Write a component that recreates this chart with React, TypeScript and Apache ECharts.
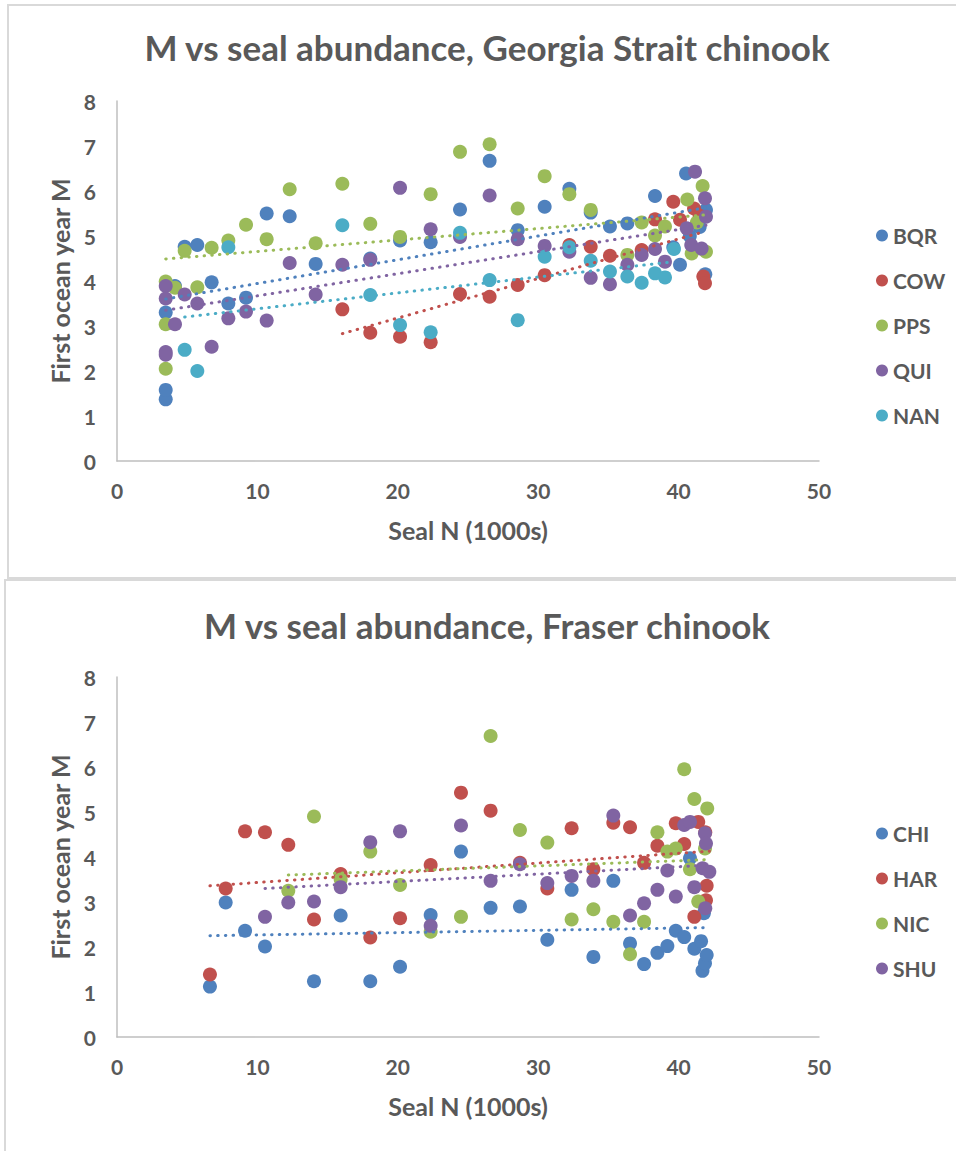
import React, { useEffect, useRef } from "react";
import * as echarts from "echarts";

// ---------- text ----------
const TOP_TITLE = "M vs seal abundance, Georgia Strait chinook";
const BOTTOM_TITLE = "M vs seal abundance, Fraser chinook";
const X_NAME = "Seal N (1000s)";
const Y_NAME = "First ocean year M";

// ---------- axes ----------
const X_MIN = 0;
const X_MAX = 50;
const X_STEP = 10;
const Y_MIN = 0;
const Y_MAX = 8;
const Y_STEP = 1;

// ---------- Georgia Strait series: [seal N (1000s), M] ----------
const TOP_NAMES = ["BQR", "COW", "PPS", "QUI", "NAN"];

const BQR = [
  [3.47, 1.37], [3.47, 1.58], [3.47, 3.3], [4.13, 3.89], [4.82, 4.76], [5.72, 4.8],
  [6.74, 3.97], [7.93, 3.5], [9.19, 3.63], [10.66, 5.5], [12.3, 5.44], [14.15, 4.38],
  [18.04, 4.5], [20.16, 4.9], [22.34, 4.86], [24.43, 5.59], [26.54, 6.67], [28.54, 5.13],
  [30.46, 5.65], [32.22, 6.05], [33.74, 5.52], [35.11, 5.21], [36.35, 5.28], [38.32, 5.89],
  [39.62, 4.75], [40.1, 4.36], [40.53, 6.39], [40.8, 5.0], [41.5, 5.2], [41.95, 5.58], [41.9, 4.15]
];
const COW = [
  [16.05, 3.37], [18.04, 2.85], [20.16, 2.76], [22.34, 2.64], [24.43, 3.71], [26.54, 3.65],
  [28.54, 3.91], [30.46, 4.13], [32.22, 4.8], [33.74, 4.76], [35.11, 4.56], [37.37, 4.69],
  [38.32, 5.37], [39.62, 5.76], [40.1, 5.36], [41.1, 5.61], [41.5, 5.45], [41.76, 4.1], [41.88, 3.95]
];
const PPS = [
  [3.47, 3.99], [3.47, 3.04], [3.47, 2.05], [4.13, 3.85], [4.82, 4.67], [5.72, 3.86],
  [6.74, 4.74], [7.93, 4.9], [9.19, 5.25], [10.66, 4.93], [12.3, 6.04], [14.15, 4.84],
  [16.05, 6.16], [18.04, 5.27], [20.16, 4.98], [22.34, 5.93], [24.43, 6.87], [26.54, 7.04],
  [28.54, 5.61], [30.46, 6.33], [32.22, 5.93], [33.74, 5.58], [36.35, 4.58], [37.37, 5.3],
  [38.32, 5.01], [39.03, 5.21], [40.62, 5.81], [40.93, 4.61], [41.3, 5.3], [41.71, 6.11], [41.95, 4.65]
];
const QUI = [
  [3.47, 3.89], [3.47, 3.61], [3.47, 2.42], [3.47, 2.36], [4.13, 3.04], [4.82, 3.7],
  [5.72, 3.5], [6.74, 2.54], [7.93, 3.17], [9.19, 3.32], [10.66, 3.12], [12.3, 4.4],
  [14.15, 3.7], [16.05, 4.36], [18.04, 4.47], [20.16, 6.07], [22.34, 5.15], [24.43, 4.98],
  [26.54, 5.9], [28.54, 4.93], [30.46, 4.78], [32.22, 4.65], [33.74, 4.07], [35.11, 3.93],
  [36.35, 4.36], [37.37, 4.58], [38.32, 4.71], [39.03, 4.43], [40.58, 5.17], [40.9, 4.8],
  [41.17, 6.43], [41.64, 4.72], [41.88, 5.84], [41.95, 5.43]
];
const NAN = [
  [4.82, 2.47], [5.72, 2.0], [7.93, 4.75], [16.05, 5.24], [18.04, 3.69], [20.16, 3.02],
  [22.34, 2.86], [24.43, 5.07], [26.54, 4.02], [28.54, 3.13], [30.46, 4.54], [32.22, 4.75],
  [33.74, 4.45], [35.11, 4.21], [36.35, 4.1], [37.37, 3.96], [38.32, 4.17], [39.03, 4.08],
  [39.67, 4.71]
];

// linear trend lines (end points)
const BQR_TREND = [[3.47, 3.6], [41.95, 5.63]];
const COW_TREND = [[16.05, 2.83], [41.88, 5.1]];
const PPS_TREND = [[3.47, 4.49], [41.95, 5.47]];
const QUI_TREND = [[3.47, 3.35], [41.95, 5.24]];
const NAN_TREND = [[4.82, 3.2], [39.67, 4.43]];

// ---------- Fraser series ----------
const BOTTOM_NAMES = ["CHI", "HAR", "NIC", "SHU"];

const CHI = [
  [6.62, 1.12], [7.74, 2.99], [9.12, 2.36], [10.54, 2.01], [14.03, 1.24], [15.93, 2.7],
  [18.04, 1.24], [20.16, 1.56], [22.34, 2.71], [24.5, 4.12], [26.61, 2.87], [28.7, 2.9],
  [30.65, 2.16], [32.38, 3.27], [33.93, 1.78], [35.35, 3.47], [36.54, 2.08], [37.54, 1.62],
  [38.49, 1.87], [39.2, 2.02], [39.8, 2.36], [40.4, 2.22], [40.81, 3.97], [41.12, 1.96],
  [41.6, 2.13], [41.7, 1.47], [41.88, 1.64], [42.0, 1.82], [41.8, 2.75]
];
const HAR = [
  [6.62, 1.39], [7.74, 3.3], [9.12, 4.57], [10.54, 4.55], [12.2, 4.27], [14.03, 2.61],
  [15.93, 3.62], [18.04, 2.21], [20.16, 2.64], [22.34, 3.82], [24.5, 5.43], [26.61, 5.03],
  [28.7, 3.87], [30.65, 3.3], [32.38, 4.64], [33.93, 3.73], [35.35, 4.76], [36.54, 4.66],
  [37.54, 3.87], [38.49, 4.25], [39.8, 4.75], [40.4, 4.29], [41.12, 2.67], [41.4, 4.78],
  [41.9, 4.55], [41.95, 3.04], [42.0, 3.36]
];
const NIC = [
  [12.2, 3.25], [14.03, 4.9], [15.93, 3.5], [18.04, 4.12], [20.16, 3.38], [22.34, 2.34],
  [24.5, 2.67], [26.61, 6.69], [28.7, 4.6], [30.65, 4.32], [32.38, 2.61], [33.93, 2.84],
  [35.35, 2.56], [36.54, 1.84], [37.54, 2.56], [38.49, 4.55], [39.2, 4.12], [39.8, 4.19],
  [40.4, 5.95], [40.81, 3.73], [41.12, 5.29], [41.4, 3.01], [41.88, 4.19], [42.04, 5.08]
];
const SHU = [
  [10.54, 2.67], [12.2, 2.99], [14.03, 3.01], [15.93, 3.33], [18.04, 4.33], [20.16, 4.57],
  [22.34, 2.47], [24.5, 4.7], [26.61, 3.47], [28.7, 3.84], [30.65, 3.42], [32.38, 3.58],
  [33.93, 3.47], [35.35, 4.92], [36.54, 2.7], [37.54, 2.97], [38.49, 3.27], [39.2, 3.7],
  [39.8, 3.12], [40.4, 4.71], [40.81, 4.78], [41.12, 3.33], [41.71, 3.75], [41.88, 4.53],
  [41.9, 2.86], [41.95, 4.3], [42.19, 3.67]
];

const CHI_TREND = [[6.62, 2.25], [41.95, 2.43]];
const HAR_TREND = [[6.62, 3.36], [42.19, 4.13]];
const NIC_TREND = [[12.2, 3.6], [42.04, 3.94]];
const SHU_TREND = [[10.54, 3.3], [42.19, 3.82]];

// ---------- style ----------
const BLUE = "#4F81BD";
const RED = "#C0504D";
const GREEN = "#9BBB59";
const PURPLE = "#8064A2";
const AQUA = "#4BACC6";
const TEXT = "#595959";
const AXIS = "#BFBFBF";
const FONT = "Lato, 'Open Sans', sans-serif";

const TOP_DATA = [BQR, COW, PPS, QUI, NAN];
const TOP_TRENDS = [BQR_TREND, COW_TREND, PPS_TREND, QUI_TREND, NAN_TREND];
const TOP_COLORS = [BLUE, RED, GREEN, PURPLE, AQUA];
const BOTTOM_DATA = [CHI, HAR, NIC, SHU];
const BOTTOM_TRENDS = [CHI_TREND, HAR_TREND, NIC_TREND, SHU_TREND];
const BOTTOM_COLORS = [BLUE, RED, GREEN, PURPLE];

function makeSeries(names: string[], data: number[][][], trends: number[][][], colors: string[], idx: number) {
  const out: any[] = [];
  names.forEach((n, i) => {
    out.push({
      type: "scatter",
      name: n,
      xAxisIndex: idx,
      yAxisIndex: idx,
      data: data[i],
      symbol: "circle",
      symbolSize: 14,
      itemStyle: { color: colors[i], opacity: 1 },
      z: 2,
    });
  });
  names.forEach((n, i) => {
    out.push({
      type: "line",
      name: n + " trend",
      xAxisIndex: idx,
      yAxisIndex: idx,
      data: trends[i],
      symbol: "none",
      silent: true,
      lineStyle: { color: colors[i], width: 3, type: [0.5, 7.2], cap: "round" },
      z: 3,
    });
  });
  return out;
}

function xAxis(idx: number) {
  return {
    type: "value",
    gridIndex: idx,
    min: X_MIN,
    max: X_MAX,
    interval: X_STEP,
    name: X_NAME,
    nameLocation: "middle",
    nameGap: 56,
    nameTextStyle: { fontFamily: FONT, fontWeight: "bold", fontSize: 25, color: TEXT },
    axisLine: { show: true, onZero: false, lineStyle: { color: AXIS, width: 1.5 } },
    axisTick: { show: false },
    splitLine: { show: false },
    axisLabel: { margin: 19, fontFamily: FONT, fontWeight: "bold", fontSize: 21, color: TEXT },
  };
}
function yAxis(idx: number) {
  return {
    type: "value",
    gridIndex: idx,
    min: Y_MIN,
    max: Y_MAX,
    interval: Y_STEP,
    name: Y_NAME,
    nameLocation: "middle",
    nameGap: 45,
    nameTextStyle: { fontFamily: FONT, fontWeight: "bold", fontSize: 25, color: TEXT },
    axisLine: { show: true, lineStyle: { color: AXIS, width: 1.5 } },
    axisTick: { show: false },
    splitLine: { show: false },
    axisLabel: { margin: 21, fontFamily: FONT, fontWeight: "bold", fontSize: 21, color: TEXT },
  };
}

function legend(names: string[], top: number) {
  return {
    orient: "vertical",
    left: 871,
    top,
    itemWidth: 12,
    itemHeight: 12,
    itemGap: 24,
    icon: "circle",
    data: names,
    selectedMode: false,
    textStyle: { fontFamily: FONT, fontWeight: "bold", fontSize: 21, lineHeight: 21, color: TEXT },
  };
}

export default function App() {
  const ref = useRef<HTMLDivElement>(null);
  useEffect(() => {
    if (!ref.current) return;
    const chart = echarts.init(ref.current, null, { renderer: "svg" });
    chart.setOption({
      animation: false,
      backgroundColor: "#ffffff",
      title: [
        {
          text: TOP_TITLE,
          left: 482,
          top: 24,
          textAlign: "center",
          textStyle: { fontFamily: FONT, fontWeight: "bold", fontSize: 35, color: TEXT },
        },
        {
          text: BOTTOM_TITLE,
          left: 482,
          top: 602,
          textAlign: "center",
          textStyle: { fontFamily: FONT, fontWeight: "bold", fontSize: 35, color: TEXT },
        },
      ],
      legend: [legend(TOP_NAMES, 220), legend(BOTTOM_NAMES, 818)],
      grid: [
        { left: 117, top: 101, width: 702, height: 360 },
        { left: 117, top: 677, width: 702, height: 360 },
      ],
      xAxis: [xAxis(0), xAxis(1)],
      yAxis: [yAxis(0), yAxis(1)],
      graphic: [
        {
          type: "rect",
          shape: { x: 8, y: 5, width: 960, height: 573 },
          style: { fill: "none", stroke: "#D9D9D9", lineWidth: 2 },
          silent: true,
          z: -1,
        },
        {
          type: "rect",
          shape: { x: 5, y: 580, width: 960, height: 600 },
          style: { fill: "none", stroke: "#D9D9D9", lineWidth: 2 },
          silent: true,
          z: -1,
        },
      ],
      series: [
        ...makeSeries(TOP_NAMES, TOP_DATA, TOP_TRENDS, TOP_COLORS, 0),
        ...makeSeries(BOTTOM_NAMES, BOTTOM_DATA, BOTTOM_TRENDS, BOTTOM_COLORS, 1),
      ],
    });
    return () => chart.dispose();
  }, []);
  return (
    <div
      ref={ref}
      style={{ position: "absolute", left: 0, top: 0, width: 956, height: 1151 }}
    />
  );
}
